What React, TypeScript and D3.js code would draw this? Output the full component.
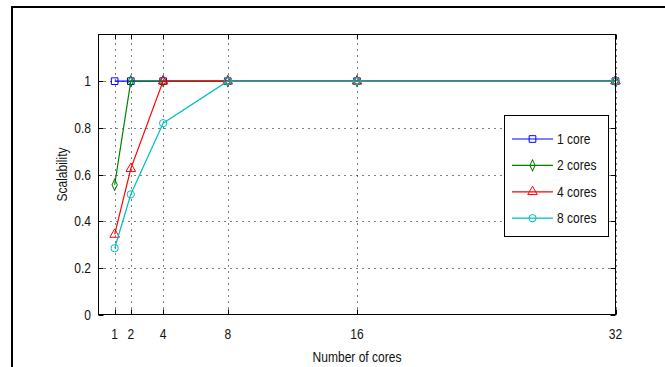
import React, { useEffect, useRef } from 'react';
import * as d3 from 'd3';

const coreCounts = [1, 2, 4, 8, 16, 32];
const oneCore = [1, 1, 1, 1, 1, 1];
const twoCores = [0.556, 1, 1, 1, 1, 1];
const fourCores = [0.343, 0.625, 1, 1, 1, 1];
const eightCores = [0.284, 0.515, 0.82, 1, 1, 1];
const yTicks = [0, 0.2, 0.4, 0.6, 0.8, 1];
const seriesNames = ['1 core', '2 cores', '4 cores', '8 cores'];

const FONT = '"Liberation Sans", Arial, sans-serif';
const SQUEEZE = 0.86;

const App: React.FC = () => {
  const svgRef = useRef<SVGSVGElement | null>(null);

  useEffect(() => {
    const w = 665;
    const h = 367;
    const m = { left: 98.5, right: 615.5, top: 34.5, bottom: 314.5 };

    const svg = d3.select(svgRef.current)
      .attr('width', w)
      .attr('height', h)
      .style('background', '#fff');
    svg.selectAll('*').remove();

    // condensed text like the matlab export
    const label = (tx: number, ty: number, str: string, anchor: string, rot = 0) =>
      svg.append('text')
        .attr('transform', `translate(${tx},${ty}) rotate(${rot}) scale(${SQUEEZE},1)`)
        .attr('text-anchor', anchor)
        .attr('font-family', FONT)
        .attr('font-size', 14)
        .attr('fill', '#111')
        .text(str);

    // outer frame (top and left edges only, as in the picture)
    svg.append('path')
      .attr('d', `M12,${h} L12,7 L${w},7`)
      .attr('fill', 'none')
      .attr('stroke', '#000')
      .attr('stroke-width', 2);

    const x = d3.scaleLinear().domain([0, 32]).range([m.left, m.right]);
    const y = d3.scaleLinear().domain([0, 1.2]).range([m.bottom, m.top]);

    // dotted grid
    const grid = svg.append('g')
      .attr('stroke', '#000')
      .attr('stroke-width', 1)
      .attr('stroke-dasharray', '1,5');
    coreCounts.forEach((c) => {
      grid.append('line')
        .attr('x1', Math.round(x(c)) + 0.5).attr('x2', Math.round(x(c)) + 0.5)
        .attr('y1', m.bottom).attr('y2', m.top);
    });
    yTicks.slice(1).forEach((t) => {
      grid.append('line')
        .attr('x1', m.left).attr('x2', m.right)
        .attr('y1', Math.round(y(t)) + 0.5).attr('y2', Math.round(y(t)) + 0.5);
    });

    // inward ticks on all four sides
    const tl = 5;
    const ticks = svg.append('g').attr('stroke', '#000').attr('stroke-width', 1);
    coreCounts.forEach((c) => {
      const xx = Math.round(x(c)) + 0.5;
      ticks.append('line').attr('x1', xx).attr('x2', xx).attr('y1', m.bottom).attr('y2', m.bottom - tl);
      ticks.append('line').attr('x1', xx).attr('x2', xx).attr('y1', m.top).attr('y2', m.top + tl);
    });
    yTicks.forEach((t) => {
      const yy = Math.round(y(t)) + 0.5;
      ticks.append('line').attr('x1', m.left).attr('x2', m.left + tl).attr('y1', yy).attr('y2', yy);
      ticks.append('line').attr('x1', m.right).attr('x2', m.right - tl).attr('y1', yy).attr('y2', yy);
    });

    // tick labels and axis titles
    coreCounts.forEach((c) => label(x(c), 339, String(c), 'middle'));
    yTicks.forEach((t) => label(91, y(t) + 5, d3.format('~g')(t), 'end'));
    label((m.left + m.right) / 2, 362, 'Number of cores', 'middle');
    label(67, (m.top + m.bottom) / 2, 'Scalability', 'middle', -90);

    // series
    const colors = ['#0000ff', '#008000', '#ff0000', '#00bfbf'];
    const allSeries = [oneCore, twoCores, fourCores, eightCores];
    const symbols = [d3.symbolSquare, d3.symbolDiamond, d3.symbolTriangle, d3.symbolCircle];
    const symSizes = [44, 30, 40, 42];

    const line = d3.line<number>()
      .x((d, i) => x(coreCounts[i]))
      .y((d) => y(d));

    const drawMarker = (g: d3.Selection<SVGGElement, unknown, null, undefined>, k: number, cx: number, cy: number) => {
      g.append('path')
        .attr('d', d3.symbol().type(symbols[k]).size(symSizes[k])() as string)
        .attr('transform', `translate(${cx},${cy})${k === 1 ? ' scale(0.9,1.1)' : ''}`)
        .attr('fill', 'none')
        .attr('stroke', colors[k])
        .attr('stroke-width', 1);
    };

    allSeries.forEach((vals, k) => {
      const g = svg.append('g');
      g.append('path')
        .datum(vals)
        .attr('fill', 'none')
        .attr('stroke', colors[k])
        .attr('stroke-width', 1.2)
        .attr('d', line);
      vals.forEach((v, i) => drawMarker(g, k, x(coreCounts[i]), y(v)));
    });

    // plot box
    svg.append('rect')
      .attr('x', m.left).attr('y', m.top)
      .attr('width', m.right - m.left).attr('height', m.bottom - m.top)
      .attr('fill', 'none')
      .attr('stroke', '#000')
      .attr('stroke-width', 1);

    // legend
    const lg = svg.append('g');
    lg.append('rect')
      .attr('x', 504.5).attr('y', 115.5)
      .attr('width', 104).attr('height', 121)
      .attr('fill', '#fff')
      .attr('stroke', '#000')
      .attr('stroke-width', 1);
    seriesNames.forEach((name, k) => {
      const ry = 139 + k * 26.4;
      lg.append('line')
        .attr('x1', 512).attr('x2', 553)
        .attr('y1', ry).attr('y2', ry)
        .attr('stroke', colors[k])
        .attr('stroke-width', 1.2);
      drawMarker(lg, k, 532.5, ry);
      lg.append('text')
        .attr('transform', `translate(557,${ry + 5}) scale(${SQUEEZE},1)`)
        .attr('font-family', FONT)
        .attr('font-size', 14)
        .attr('fill', '#111')
        .text(name);
    });
  }, []);

  return <svg ref={svgRef} style={{ position: 'absolute', left: 0, top: 0, display: 'block' }}></svg>;
};

export default App;
